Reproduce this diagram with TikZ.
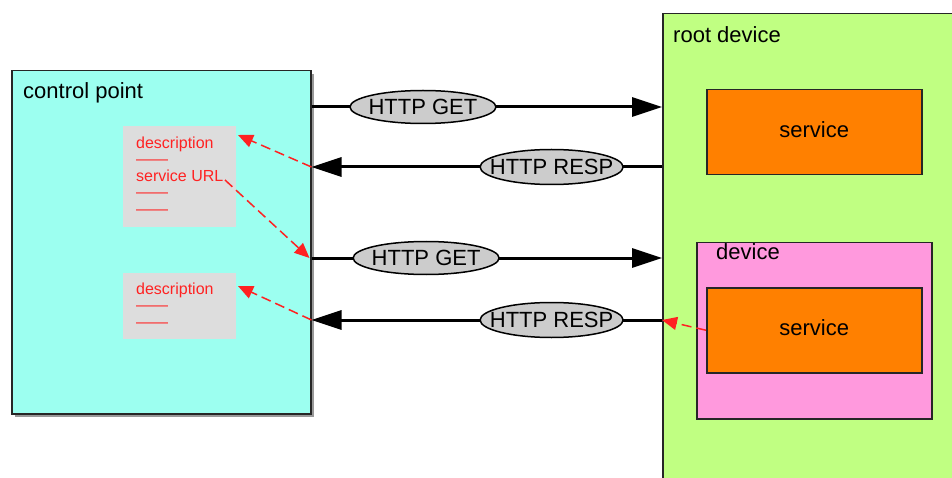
\documentclass[tikz,border=0pt]{standalone}
\usepackage{fontspec}
\setmainfont{Liberation Sans}
\usetikzlibrary{shapes.geometric,arrows.meta,shadows}
\definecolor{cpcyan}{HTML}{9CFFF0}
\definecolor{devgreen}{HTML}{C0FF82}
\definecolor{svcorange}{HTML}{FF8000}
\definecolor{devpink}{HTML}{FF99DD}
\definecolor{notegrey}{HTML}{DDDDDD}
\definecolor{pillgrey}{HTML}{CCCCCC}
\definecolor{linkred}{HTML}{FF2222}
\newcommand{\pilltext}[1]{\makebox[0pt]{#1}}
\begin{document}
\begin{tikzpicture}[x=1pt,y=-1pt,
  box/.style={draw=black!85, line width=1.5pt, inner sep=0pt, anchor=north west},
  lbl/.style={anchor=base west, inner sep=0pt, font=\fontsize{22}{26}\selectfont},
  svc/.style={box, fill=svcorange, minimum width=215pt, minimum height=85pt,
    font=\fontsize{22}{26}\selectfont, text height=11pt, text depth=0pt},
  note/.style={fill=notegrey, inner sep=0pt, anchor=north west, minimum width=113pt},
  notetext/.style={anchor=north west, inner sep=0pt, align=left, text=linkred,
    font=\fontsize{16}{16.5}\selectfont},
  pill/.style={ellipse, draw=black, line width=1.5pt, fill=pillgrey, inner sep=0pt,
    minimum width=146pt, minimum height=33pt, text height=15pt, text depth=0pt,
    font=\fontsize{22}{26}\selectfont},
  msg/.style={draw=black, line width=3pt, -{Triangle[length=30pt,width=19pt]}},
  link/.style={draw=linkred, line width=1.5pt, dash pattern=on 10pt off 5pt,
    -{Triangle[length=15pt,width=13pt]}}
]
\path[use as bounding box, clip] (0,0) rectangle (952,478);

% control point with its cached documents
\node[box, fill=cpcyan, minimum width=299pt, minimum height=343pt,
  drop shadow={shadow xshift=3pt, shadow yshift=-3pt, fill=black!40, opacity=1}]
  (cp) at (11,70) {};
\node[lbl] (cplbl) at (23,99) {control point};

\node[note, minimum height=101pt] (doc1) at (123,126) {};
\node[notetext] (doc1txt) at (136,136.4)
  {description\\\textemdash\textemdash\\service URL\\\textemdash\textemdash\\\textemdash\textemdash};
\node[note, minimum height=66pt] (doc2) at (123,273) {};
\node[notetext] (doc2txt) at (136,282.4)
  {description\\\textemdash\textemdash\\\textemdash\textemdash};

% root device, its service and embedded device
\node[box, fill=devgreen, minimum width=340pt, minimum height=500pt] (root) at (662,13) {};
\node[lbl] (rootlbl) at (673,43) {root device};
\node[svc] (svc1) at (706,89) {service};
\node[box, fill=devpink, minimum width=235pt, minimum height=176pt] (dev) at (696,242) {};
\node[lbl] (devlbl) at (716,259) {device};
\node[svc] (svc2) at (706,287) {service};

% request / response messages
\coordinate (y1) at (0,107);
\coordinate (y2) at (0,167);
\coordinate (y3) at (0,258);
\coordinate (y4) at (0,320);
\draw[msg] (cp.east |- y1) -- node[pill, pos=0.318] (get1) {\pilltext{HTTP GET}} (root.west |- y1);
\draw[msg] (root.west |- y2) -- node[pill, pos=0.315, minimum width=143pt, minimum height=35pt] (resp1) {\pilltext{HTTP RESP}} (cp.east |- y2);
\draw[msg] (cp.east |- y3) -- node[pill, pos=0.327] (get2) {\pilltext{HTTP GET}} (root.west |- y3);
\draw[msg] (root.west |- y4) -- node[pill, pos=0.315, minimum width=143pt, minimum height=35pt] (resp2) {\pilltext{HTTP RESP}} (cp.east |- y4);

% where the data goes
\coordinate (d1tip) at (238,135);
\coordinate (urlend) at (225,180);
\coordinate (d2tip) at (238,286);
\draw[link] (cp.east |- y2) -- (d1tip);
\draw[link] (urlend) -- ([xshift=-2pt]cp.east |- y3);
\draw[link] (cp.east |- y4) -- (d2tip);
\draw[link] (svc2.west) -- (root.west |- y4);
\end{tikzpicture}
\end{document}
